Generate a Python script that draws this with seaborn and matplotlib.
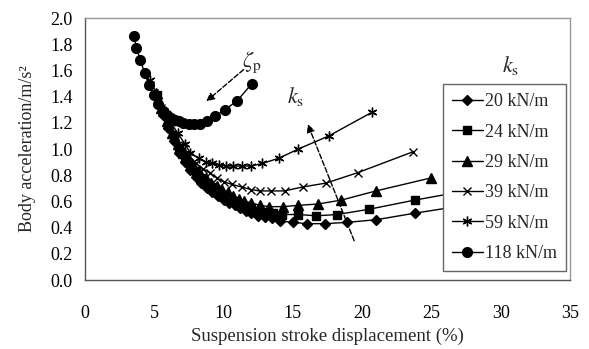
import matplotlib
matplotlib.use("Agg")
import matplotlib.pyplot as plt
import seaborn as sns

sns.set_style("white")
plt.rcParams['font.family'] = ['Liberation Serif', 'DejaVu Serif']
plt.rcParams['mathtext.fontset'] = 'stix'

# ---- data ----
labels = ["20 kN/m", "24 kN/m", "29 kN/m", "39 kN/m", "59 kN/m", "118 kN/m"]

x20 = [5.2, 5.6, 6.0, 6.4, 6.8, 7.2, 7.6, 8.0, 8.4, 8.8, 9.2, 9.6, 10.0, 10.4, 10.8, 11.2, 11.6,
       12.0, 12.5, 13.0, 13.5, 14.1, 15.0, 16.0, 17.3, 18.9, 21.0, 23.8, 28.0]
y20 = [1.39, 1.26, 1.16, 1.06, 0.97, 0.90, 0.84, 0.79, 0.74, 0.70, 0.67, 0.64, 0.61, 0.59, 0.57, 0.55, 0.53,
       0.51, 0.49, 0.48, 0.47, 0.45, 0.44, 0.43, 0.43, 0.44, 0.46, 0.51, 0.58]

x24 = [5.2, 5.6, 6.0, 6.4, 6.8, 7.2, 7.6, 8.0, 8.4, 8.8, 9.2, 9.6, 10.0, 10.4, 10.8, 11.2, 11.6,
       12.0, 12.5, 13.0, 13.6, 14.2, 15.4, 16.7, 18.2, 20.5, 23.8, 28.0]
y24 = [1.41, 1.28, 1.18, 1.09, 1.01, 0.94, 0.88, 0.83, 0.78, 0.74, 0.71, 0.68, 0.65, 0.63, 0.60, 0.58, 0.56,
       0.55, 0.53, 0.52, 0.51, 0.50, 0.50, 0.49, 0.50, 0.54, 0.61, 0.69]

x29 = [5.1, 5.5, 5.9, 6.3, 6.7, 7.1, 7.5, 7.9, 8.3, 8.7, 9.1, 9.5, 9.9, 10.3, 10.7, 11.1, 11.5,
       12.0, 12.6, 13.3, 14.3, 15.4, 16.8, 18.5, 21.0, 25.0]
y29 = [1.43, 1.31, 1.21, 1.12, 1.04, 0.97, 0.91, 0.86, 0.82, 0.78, 0.74, 0.72, 0.69, 0.67, 0.64, 0.62, 0.60,
       0.59, 0.57, 0.56, 0.56, 0.57, 0.58, 0.61, 0.68, 0.78]

x39 = [5.0, 5.5, 6.0, 6.5, 7.0, 7.5, 8.0, 8.5, 9.0, 9.5, 10.0, 10.6, 11.3, 12.0, 12.6, 13.4, 14.4,
       15.7, 17.4, 19.7, 23.7]
y39 = [1.43, 1.31, 1.20, 1.10, 1.02, 0.95, 0.89, 0.85, 0.82, 0.78, 0.75, 0.73, 0.71, 0.69, 0.68, 0.68, 0.68,
       0.71, 0.74, 0.82, 0.98]

x59 = [4.7, 5.2, 5.7, 6.2, 6.7, 7.2, 7.6, 8.2, 8.7, 9.2, 9.7, 10.2, 10.7, 11.3, 12.0, 12.8, 14.0,
       15.4, 17.6, 20.7]
y59 = [1.53, 1.41, 1.29, 1.20, 1.12, 1.04, 0.97, 0.93, 0.90, 0.89, 0.88, 0.87, 0.87, 0.87, 0.87, 0.89, 0.93,
       1.00, 1.10, 1.28]

x118 = [3.55, 3.7, 4.0, 4.3, 4.6, 5.0, 5.3, 5.6, 5.9, 6.2, 6.5, 6.8, 7.1, 7.5, 7.9, 8.3, 8.8,
        9.4, 10.1, 11.0, 12.05]
y118 = [1.86, 1.77, 1.68, 1.58, 1.49, 1.41, 1.34, 1.29, 1.26, 1.24, 1.22, 1.21, 1.20, 1.19, 1.19, 1.19, 1.21,
        1.25, 1.30, 1.37, 1.50]

xs = [x20, x24, x29, x39, x59, x118]
ys = [y20, y24, y29, y39, y59, y118]
markers = ['D', 's', '^', 'x', (6, 2, 0), 'o']
msizes = [5, 6, 6.5, 6, 7, 7]

fig = plt.figure(figsize=(5.89, 3.49), dpi=100)
ax = fig.add_axes([0.1443, 0.1977, 0.8234, 0.7507])

for xv, yv, m, ms, lab in zip(xs, ys, markers, msizes, labels):
    sns.lineplot(x=xv, y=yv, ax=ax, color='black', marker=m, markersize=ms,
                 markeredgecolor='black', markerfacecolor='black', markeredgewidth=1.0,
                 linewidth=1.0, sort=False, estimator=None, label=lab)

ax.set_xlim(0, 35)
ax.set_ylim(0, 2.0)
ax.set_xticks(range(0, 36, 5))
ax.set_yticks([i / 10 for i in range(0, 21, 2)])
ax.set_yticklabels([f"{i/10:.1f}" for i in range(0, 21, 2)])
ax.tick_params(axis='y', direction='inout', length=10, width=0.8, colors='#444',
               labelcolor='black', labelsize=13, pad=4)
ax.tick_params(axis='x', direction='out', length=5, width=0.8, colors='#444',
               labelcolor='black', labelsize=13, pad=13)
for s in ['left', 'bottom']:
    ax.spines[s].set_color('#555')
    ax.spines[s].set_linewidth(1.0)
for s in ['top', 'right']:
    ax.spines[s].set_color('#999')
    ax.spines[s].set_linewidth(1.0)

ax.set_xlabel("Suspension stroke displacement (%)", fontsize=13.5, labelpad=4)
ax.set_ylabel("Body acceleration/m/s\u00b2", fontsize=13, labelpad=10)

leg = ax.legend(loc='upper left', bbox_to_anchor=(0.738, 0.747), fontsize=13,
                frameon=True, fancybox=False, framealpha=1, edgecolor='#666',
                labelspacing=0.74, handlelength=1.7, handletextpad=0.15,
                borderpad=0.5, borderaxespad=0)
leg.get_frame().set_linewidth(1.0)

ax.text(30.7, 1.64, r"$k_{\mathrm{s}}$", fontsize=16, ha='center', va='center')
ax.text(15.2, 1.40, r"$k_{\mathrm{s}}$", fontsize=16, ha='center', va='center')
ax.text(12.05, 1.66, r"$\zeta_{\mathrm{p}}$", fontsize=16, ha='center', va='center')

ax.annotate("", xy=(8.6, 1.35), xytext=(11.6, 1.62),
            arrowprops=dict(arrowstyle='-|>', linestyle='--', color='black', lw=1.0,
                            mutation_scale=12))
ax.annotate("", xy=(16.0, 1.21), xytext=(19.5, 0.28),
            arrowprops=dict(arrowstyle='-|>', linestyle='--', color='black', lw=1.0,
                            mutation_scale=12))

fig.savefig("out.png", dpi=100)
